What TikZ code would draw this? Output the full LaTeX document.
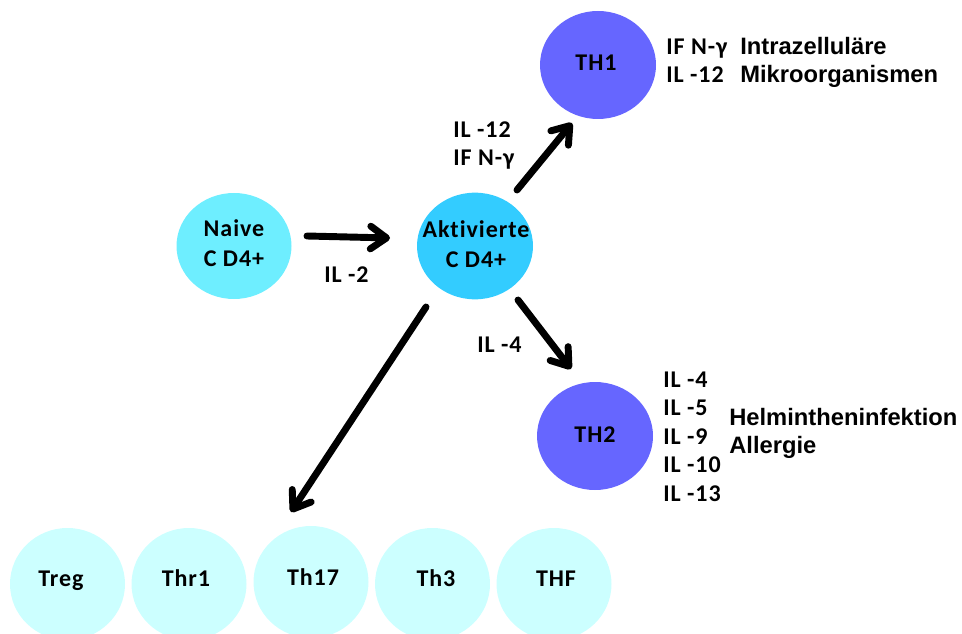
\documentclass[tikz,border=0pt]{standalone}
\usepackage{fontspec}
\setmainfont{Carlito}[LetterSpace=4,Ligatures=NoCommon]
\newfontfamily\arialfont{Liberation Sans}
\usetikzlibrary{arrows.meta,shapes.geometric}
\definecolor{naivecol}{RGB}{110,238,255}
\definecolor{aktcol}{RGB}{51,204,255}
\definecolor{thcol}{RGB}{102,102,255}
\definecolor{subcol}{RGB}{204,255,255}
\newcommand\lblfont{\fontsize{18}{22.5}\selectfont\bfseries}
\newcommand\sidefont{\arialfont\bfseries\fontsize{17.8}{21}\selectfont}
\tikzset{
  cell/.style={ellipse, inner sep=0pt, draw=none},
  big/.style={cell, minimum width=87pt, minimum height=80pt},
  small/.style={cell, fill=subcol, minimum width=86.25pt, minimum height=84pt},
  lbl/.style={font=\lblfont, inner sep=0pt, anchor=base, align=center},
  cyt/.style={font=\lblfont, inner sep=0pt, anchor=base west},
  side/.style={font=\sidefont, inner sep=0pt, anchor=base west},
  conn/.style={line width=5.2pt, line cap=round,
    -{Straight Barb[length=12pt,width=17pt,round]}}
}
\begin{document}
\begin{tikzpicture}[x=0.75pt,y=-0.75pt]
\useasboundingbox (0,0) rectangle (962,634);
\clip (0,0) rectangle (962,634);
% cells
\node[big, fill=naivecol, minimum width=86.25pt, minimum height=79.5pt] (naive) at (234,246) {};
\node[big, fill=aktcol] (akt) at (475,246) {};
\node[big, fill=thcol, minimum height=81pt] (th1) at (598,65) {};
\node[big, fill=thcol, minimum height=81pt] (th2) at (595,436) {};
\node[small] (treg) at (67.5,584) {};
\node[small] (thr1) at (189,584) {};
\node[small] (th17) at (311,582) {};
\node[small] (th3) at (432.5,584) {};
\node[small] (thf) at (554,584) {};
% cell labels (base = baseline of last line)
\node[lbl] (naivet) at (234,267) {Naive\\C D4+};
\node[lbl] (aktt) at (476,267.5) {Aktivierte\\C D4+};
\node[lbl] (th1t) at (596,71) {TH1};
\node[lbl] (th2t) at (595,442) {TH2};
\node[lbl] (tregt) at (61,586) {Treg};
\node[lbl] (thr1t) at (186,586) {Thr1};
\node[lbl] (th17t) at (313,585) {Th17};
\node[lbl] (th3t) at (436,586) {Th3};
\node[lbl] (thft) at (556,586) {THF};
% connectors
\coordinate (a1s) at (307,236); \coordinate (a1e) at (390,238);
\coordinate (a2s) at (517,190); \coordinate (a2e) at (572,123);
\coordinate (a3s) at (518,300); \coordinate (a3e) at (571,369);
\coordinate (a4s) at (426,307); \coordinate (a4e) at (291,512);
\draw[conn] (a1s) -- (a1e);
\draw[conn] (a2s) -- (a2e);
\draw[conn] (a3s) -- (a3e);
\draw[conn] (a4s) -- (a4e);
% cytokine labels
\node[cyt] (il2) at (324,282) {IL -2};
\node[cyt] (il4a) at (477,352) {IL -4};
\node[cyt] (il12a) at (453,138) {IL -12};
\node[cyt] (ifna) at (453,166) {IF N-γ};
\node[cyt] (ifnb) at (666,55) {IF N-γ};
\node[cyt] (il12b) at (666,83) {IL -12};
\node[cyt] (il4b) at (663,387) {IL -4};
\node[cyt] (il5) at (663,415.5) {IL -5};
\node[cyt] (il9) at (663,444) {IL -9};
\node[cyt] (il10) at (663,472.5) {IL -10};
\node[cyt] (il13) at (663,501) {IL -13};
% side texts
\node[side] (intra) at (740,55) {Intrazelluläre};
\node[side] (mikro) at (740,83) {Mikroorganismen};
\node[side] (helm) at (729,425) {Helmintheninfektion};
\node[side] (allerg) at (729,453) {Allergie};
\end{tikzpicture}
\end{document}
